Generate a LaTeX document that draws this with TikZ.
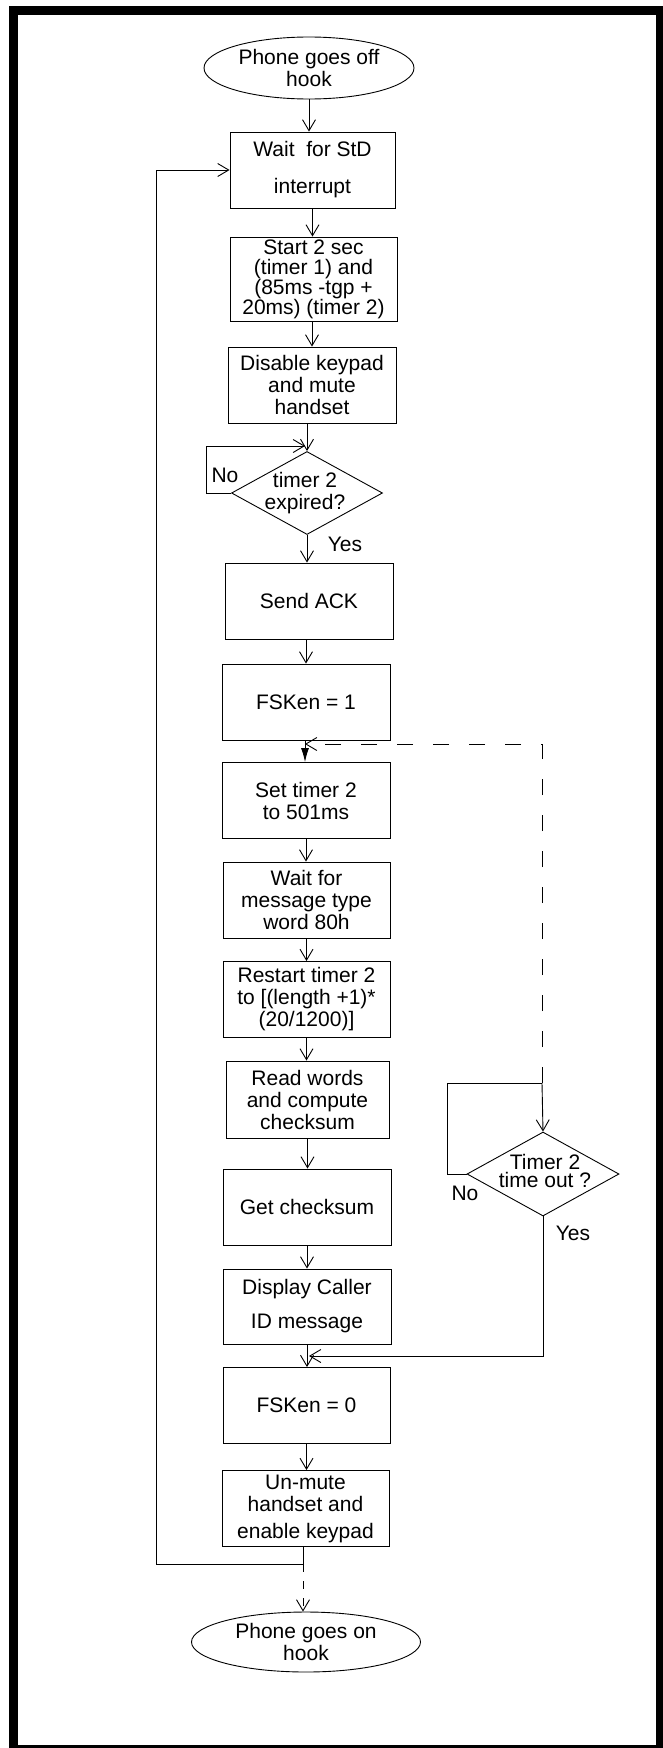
\documentclass[tikz,border=0pt]{standalone}
\usepackage{fontspec}
\setmainfont{Liberation Sans}
\usepackage{tikz}
\usepackage{xcolor}
\usetikzlibrary{shapes.geometric,arrows.meta}

\begin{document}
\begin{tikzpicture}[x=1pt,y=-1pt,
  every node/.style={font=\fontsize{21}{22}\selectfont, align=center, inner sep=0pt},
  stepbox/.style={draw, line width=0.9pt, minimum width=167pt, minimum height=76pt},
  decision/.style={draw, diamond, line width=0.9pt, minimum width=151pt, minimum height=83pt},
  terminal/.style={draw, ellipse, line width=0.9pt},
  flow/.style={line width=0.9pt, -{Straight Barb[length=11pt,width=13pt]}},
  wire/.style={line width=0.9pt}]
\useasboundingbox (0,0) rectangle (663,1748);
\draw[line width=9pt] (13.5,10.5) rectangle (660.5,1749.5);

\node[terminal, minimum width=210pt, minimum height=62pt] (offhook) at (309,68) {Phone goes off\\hook};
\node[stepbox, minimum width=165pt] (waitstd) at (312.5,170) {Wait\ \ for StD\\[15pt]interrupt};
\node[stepbox, minimum height=84pt, font=\fontsize{21}{20}\selectfont] (starttimers) at (313.5,279) {Start 2 sec\\(timer 1) and\\(85ms -tgp +\\20ms) (timer 2)};
\node[stepbox, minimum width=168pt] (mutekeys) at (312,385) {Disable keypad\\and mute\\handset};
\node[decision] (expired) at (307,493) {};
\node (expiredtext) at (305,493) {timer 2\\expired?};
\node[stepbox, minimum width=168pt] (sendack) at (309,601) {Send ACK};
\node[stepbox, minimum width=168pt] (fskon) at (306,702) {FSKen = 1};
\node[stepbox, minimum width=168pt] (settimer) at (306,800.5) {Set timer 2\\to 501ms};
\node[stepbox] (waitmsg) at (306.5,900) {Wait for\\message type\\word 80h};
\node[stepbox] (restart) at (306.5,999.5) {Restart timer 2\\to [(length +1)*\\(20/1200)]};
\node[stepbox, minimum width=163pt, minimum height=77pt] (readwords) at (307.5,1099.5) {Read words\\and compute\\checksum};
\node[stepbox, minimum width=168pt] (getsum) at (307,1207) {Get checksum};
\node[stepbox, minimum width=168pt, minimum height=75pt] (display) at (307,1306.5) {Display Caller\\[12pt]ID message};
\node[stepbox] (fskoff) at (306.5,1405.5) {FSKen = 0};
\node[stepbox] (unmute) at (305.5,1508.5) {Un-mute\\handset and\\[5pt]enable keypad};
\node[terminal, minimum width=229pt, minimum height=60pt] (onhook) at (306,1642) {Phone goes on\\hook};
\node[decision, minimum width=152pt, minimum height=84pt] (timeout) at (543,1174) {};
\node[font=\fontsize{21}{18}\selectfont] (timeouttext) at (545,1171) {Timer 2\\time out ?};

\node (noexpired) at (225,475) {No};
\node (yesexpired) at (345,544) {Yes};
\node (notimeout) at (465,1193) {No};
\node (yestimeout) at (573,1233) {Yes};

\coordinate (nomerge) at (305,446);
\coordinate (dashjoin) at (305,744);
\coordinate (dashcorner) at (542,744);
\coordinate (nojoin) at (542,1083);
\coordinate (yesjoin) at (309,1356);
\coordinate (loopsplit) at (303,1564);
\coordinate (loopleft) at (156,1564);

\draw[flow] (offhook.south) -- (offhook.south |- waitstd.north);
\draw[flow] (waitstd.south) -- (waitstd.south |- starttimers.north);
\draw[flow] (starttimers.south -| mutekeys.north) -- (mutekeys.north);
\draw[flow] (expired.north |- mutekeys.south) -- (expired.north);
\draw[flow] (expired.west) -- ++(-25,0) |- (nomerge);
\draw[flow] (expired.south) -- (expired.south |- sendack.north);
\draw[flow] (fskon.north |- sendack.south) -- (fskon.north);
\draw[line width=0.9pt, -{Latex[length=14pt,width=8pt]}] (fskon.south -| dashjoin) -- (settimer.north -| dashjoin);
\draw[flow] (settimer.south) -- (settimer.south |- waitmsg.north);
\draw[flow] (waitmsg.south) -- (waitmsg.south |- restart.north);
\draw[flow] (restart.south) -- (restart.south |- readwords.north);
\draw[flow] (readwords.south) -- (readwords.south |- getsum.north);
\draw[flow] (getsum.south) -- (getsum.south |- display.north);
\draw[flow] (display.south) -- (display.south |- fskoff.north);
\draw[flow] (fskoff.south) -- (fskoff.south |- unmute.north);

\draw[flow, dash pattern=on 16pt off 20pt] (nojoin) -- (dashcorner) -- (dashjoin);
\draw[flow] (nojoin) -- (timeout.north);
\draw[wire] (timeout.west) -- ++(-19,0) |- (nojoin);
\draw[flow] (timeout.south) |- (yesjoin);

\draw[flow] (unmute.south -| loopsplit) -- (loopsplit) -- (loopleft) |- (waitstd.west);
\draw[flow, dash pattern=on 8pt off 9pt] (loopsplit) -- (loopsplit |- onhook.north);
\end{tikzpicture}
\end{document}
